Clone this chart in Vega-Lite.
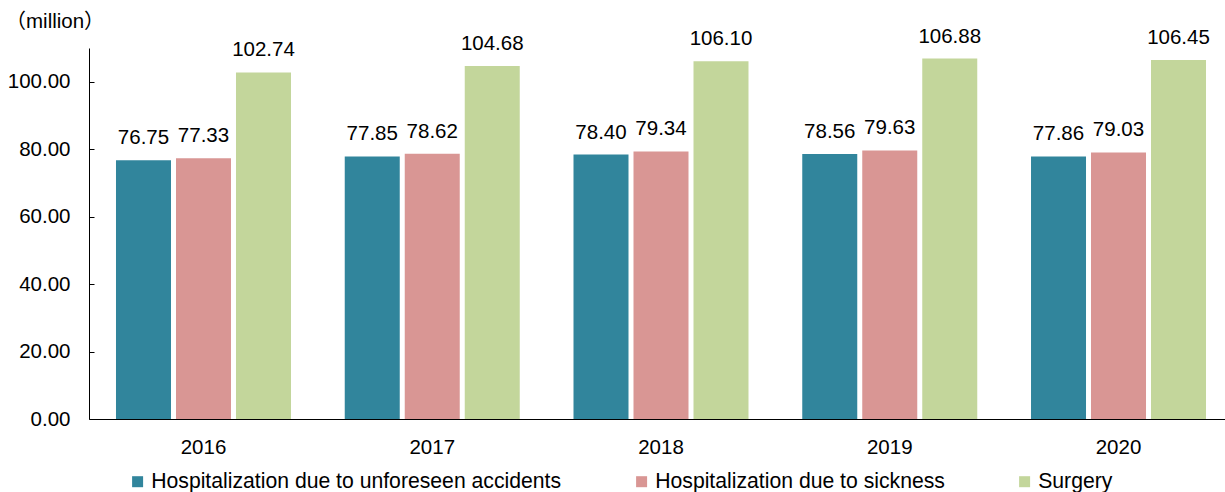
{
  "$schema": "https://vega.github.io/schema/vega-lite/v6.json",
  "autosize": "none",
  "width": 1136,
  "height": 371,
  "padding": {"left": 89, "top": 48, "right": 0, "bottom": 73},
  "config": {
    "font": "Liberation Sans",
    "view": {"stroke": null},
    "axis": {"labelColor": "#000000", "titleColor": "#000000"}
  },
  "data": {
    "values": [
      {"year": "2016", "type": "Hospitalization due to unforeseen accidents", "value": 76.75},
      {"year": "2016", "type": "Hospitalization due to sickness", "value": 77.33},
      {"year": "2016", "type": "Surgery", "value": 102.74},
      {"year": "2017", "type": "Hospitalization due to unforeseen accidents", "value": 77.85},
      {"year": "2017", "type": "Hospitalization due to sickness", "value": 78.62},
      {"year": "2017", "type": "Surgery", "value": 104.68},
      {"year": "2018", "type": "Hospitalization due to unforeseen accidents", "value": 78.40},
      {"year": "2018", "type": "Hospitalization due to sickness", "value": 79.34},
      {"year": "2018", "type": "Surgery", "value": 106.10},
      {"year": "2019", "type": "Hospitalization due to unforeseen accidents", "value": 78.56},
      {"year": "2019", "type": "Hospitalization due to sickness", "value": 79.63},
      {"year": "2019", "type": "Surgery", "value": 106.88},
      {"year": "2020", "type": "Hospitalization due to unforeseen accidents", "value": 77.86},
      {"year": "2020", "type": "Hospitalization due to sickness", "value": 79.03},
      {"year": "2020", "type": "Surgery", "value": 106.45}
    ]
  },
  "encoding": {
    "x": {
      "field": "year",
      "type": "nominal",
      "scale": {"paddingInner": 0.235, "paddingOuter": 0.1005, "align": 0.587},
      "axis": {
        "title": null,
        "labelAngle": 0,
        "ticks": false,
        "domainColor": "#000000",
        "domainWidth": 1,
        "labelFontSize": 20.5,
        "labelPadding": 18
      }
    },
    "y": {
      "field": "value",
      "type": "quantitative",
      "scale": {"domain": [0, 110], "nice": false},
      "axis": {
        "values": [0, 20, 40, 60, 80, 100],
        "format": ".2f",
        "grid": false,
        "domainColor": "#000000",
        "tickColor": "#000000",
        "tickSize": -5,
        "labelPadding": 24,
        "labelFontSize": 20.5,
        "title": "（million）",
        "titleFont": "Liberation Sans, Noto Sans CJK JP",
        "titleFontWeight": "normal",
        "titleFontSize": 20.5,
        "titleAngle": 0,
        "titleAlign": "left",
        "titleBaseline": "alphabetic",
        "titleX": -84,
        "titleY": -21
      }
    },
    "xOffset": {
      "field": "type",
      "type": "nominal",
      "sort": ["Hospitalization due to unforeseen accidents", "Hospitalization due to sickness", "Surgery"],
      "scale": {"paddingInner": 0.0833, "paddingOuter": 0}
    }
  },
  "layer": [
    {
      "mark": {"type": "bar"},
      "encoding": {
        "color": {
          "field": "type",
          "type": "nominal",
          "scale": {
            "domain": ["Hospitalization due to unforeseen accidents", "Hospitalization due to sickness", "Surgery"],
            "range": ["#31859C", "#D99694", "#C3D69B"]
          },
          "legend": {
            "title": null,
            "orient": "none",
            "direction": "horizontal",
            "legendX": 38,
            "legendY": 423,
            "symbolType": "square",
            "symbolSize": 121,
            "symbolStrokeWidth": 0,
            "symbolOpacity": 1,
            "labelFontSize": 21.2,
            "labelColor": "#000000",
            "labelOffset": 3,
            "labelLimit": 0,
            "columnPadding": 69
          }
        }
      }
    },
    {
      "mark": {"type": "text", "fontSize": 20.5, "color": "#000000", "baseline": "alphabetic", "dy": -16},
      "encoding": {
        "text": {"field": "value", "type": "quantitative", "format": ".2f"}
      }
    }
  ]
}
